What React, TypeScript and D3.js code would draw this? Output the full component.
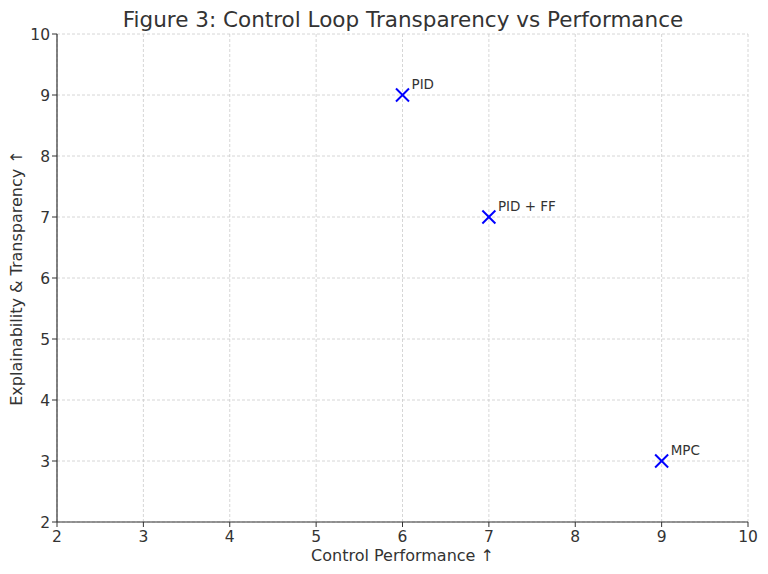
import React from "react";
import * as d3 from "d3";

const names = ["PID", "PID + FF", "MPC"];
const performance = [6, 7, 9];
const transparency = [9, 7, 3];
const xTicks = [2, 3, 4, 5, 6, 7, 8, 9, 10];
const yTicks = [2, 3, 4, 5, 6, 7, 8, 9, 10];

const W = 768, H = 574;
const M = { left: 57, right: 748, top: 34, bottom: 522 };
const FONT = "DejaVu Sans, sans-serif";

export default function App() {
  const x = d3.scaleLinear().domain([2, 10]).range([M.left, M.right]);
  const y = d3.scaleLinear().domain([2, 10]).range([M.bottom, M.top]);
  const ms = 6.5;
  return (
    <svg width={W} height={H} style={{ position: "absolute", left: 0, top: 0, background: "#fff" }} fontFamily={FONT}>
      <rect x={0} y={0} width={W} height={H} fill="#fff" />
      {xTicks.map((t) => (
        <line key={"gx" + t} x1={x(t)} x2={x(t)} y1={M.top} y2={M.bottom} stroke="#cccccc" strokeDasharray="3,2" strokeWidth={0.8} />
      ))}
      {yTicks.map((t) => (
        <line key={"gy" + t} x1={M.left} x2={M.right} y1={y(t)} y2={y(t)} stroke="#cccccc" strokeDasharray="3,2" strokeWidth={0.8} />
      ))}
      <line x1={M.left} x2={M.left} y1={M.top} y2={M.bottom} stroke="#333" strokeWidth={1.2} />
      <line x1={M.left} x2={M.right} y1={M.bottom} y2={M.bottom} stroke="#333" strokeWidth={1.2} />
      {xTicks.map((t) => (
        <g key={"tx" + t}>
          <line x1={x(t)} x2={x(t)} y1={M.bottom} y2={M.bottom + 5} stroke="#333" strokeWidth={1} />
          <text x={x(t)} y={M.bottom + 20} textAnchor="middle" fontSize={15.5} fill="#333">{t}</text>
        </g>
      ))}
      {yTicks.map((t) => (
        <g key={"ty" + t}>
          <line x1={M.left - 5} x2={M.left} y1={y(t)} y2={y(t)} stroke="#333" strokeWidth={1} />
          <text x={M.left - 7} y={y(t) + 5.5} textAnchor="end" fontSize={15.5} fill="#333">{t}</text>
        </g>
      ))}
      <text x={(M.left + M.right) / 2 + 0.5} y={27} textAnchor="middle" fontSize={21.5} fill="#333">
        Figure 3: Control Loop Transparency vs Performance
      </text>
      <text x={(M.left + M.right) / 2} y={561} textAnchor="middle" fontSize={16} fill="#333">
        Control Performance ↑
      </text>
      <text transform={`translate(22, ${(M.top + M.bottom) / 2}) rotate(-90)`} textAnchor="middle" fontSize={16} fill="#333">
        Explainability &amp; Transparency ↑
      </text>
      {names.map((n, i) => {
        const cx = x(performance[i]);
        const cy = y(transparency[i]);
        return (
          <g key={n}>
            <line x1={cx - ms} y1={cy - ms} x2={cx + ms} y2={cy + ms} stroke="#0000ff" strokeWidth={2} />
            <line x1={cx - ms} y1={cy + ms} x2={cx + ms} y2={cy - ms} stroke="#0000ff" strokeWidth={2} />
            <text x={cx + 9} y={cy - 6} fontSize={13.5} fill="#333">{n}</text>
          </g>
        );
      })}
    </svg>
  );
}
